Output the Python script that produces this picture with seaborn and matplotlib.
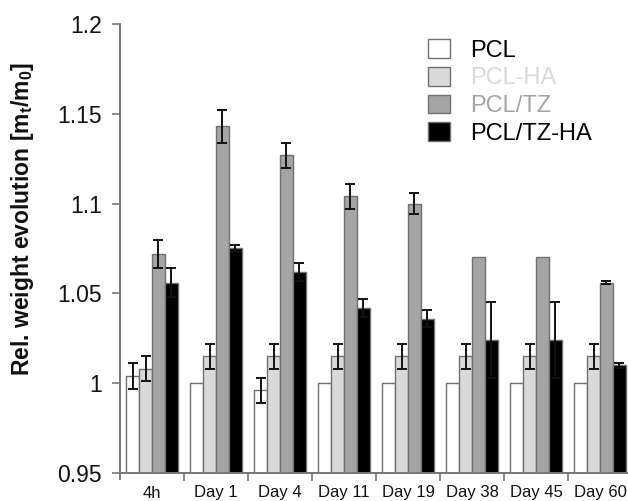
import matplotlib
matplotlib.use("Agg")
import matplotlib.pyplot as plt
import seaborn as sns
import pandas as pd
import numpy as np
from matplotlib.patches import Patch

times = ["4h", "Day 1", "Day 4", "Day 11", "Day 19", "Day 38", "Day 45", "Day 60"]
groups = ["PCL", "PCL-HA", "PCL/TZ", "PCL/TZ-HA"]

pcl = [1.004, 1.000, 0.996, 1.000, 1.000, 1.000, 1.000, 1.000]
pcl_err = [0.007, 0.0, 0.007, 0.0, 0.0, 0.0, 0.0, 0.0]
pcl_ha = [1.008, 1.015, 1.015, 1.015, 1.015, 1.015, 1.015, 1.015]
pcl_ha_err = [0.007, 0.007, 0.007, 0.007, 0.007, 0.007, 0.007, 0.007]
pcl_tz = [1.072, 1.143, 1.127, 1.104, 1.100, 1.070, 1.070, 1.056]
pcl_tz_err = [0.008, 0.009, 0.007, 0.007, 0.006, 0.0, 0.0, 0.001]
pcl_tz_ha = [1.056, 1.075, 1.062, 1.042, 1.036, 1.024, 1.024, 1.010]
pcl_tz_ha_err = [0.008, 0.002, 0.005, 0.005, 0.0045, 0.021, 0.021, 0.0015]

values = [pcl, pcl_ha, pcl_tz, pcl_tz_ha]
errors = [pcl_err, pcl_ha_err, pcl_tz_err, pcl_tz_ha_err]
colors = ["#ffffff", "#d9d9d9", "#a5a5a5", "#000000"]
text_colors = ["#000000", "#d9d9d9", "#a5a5a5", "#000000"]

rows = []
for g, vals in zip(groups, values):
    for t, v in zip(times, vals):
        rows.append({"time": t, "group": g, "value": v})
df = pd.DataFrame(rows)

sns.set_theme(style="white")
plt.rcParams["font.family"] = ["Liberation Sans", "DejaVu Sans"]
plt.rcParams["mathtext.fontset"] = "custom"
plt.rcParams["mathtext.rm"] = "Liberation Sans:bold"
plt.rcParams["mathtext.it"] = "Liberation Sans:bold"
plt.rcParams["mathtext.bf"] = "Liberation Sans:bold"
plt.rcParams["mathtext.default"] = "rm"

fig = plt.figure(figsize=(6.28, 5.01), dpi=100)
ax = fig.add_axes([120 / 628, (501 - 473) / 501, 512 / 628, 449 / 501])

sns.barplot(data=df, x="time", y="value", hue="group", order=times, hue_order=groups,
            palette=colors, edgecolor="#707070", linewidth=1.0, width=0.8, gap=0,
            errorbar=None, legend=False, ax=ax)

for cont, vals, errs in zip(ax.containers, values, errors):
    for bar, v, e in zip(cont, vals, errs):
        if e > 0:
            ax.errorbar(bar.get_x() + bar.get_width() / 2, v, yerr=e, fmt="none",
                        ecolor="#111111", elinewidth=1.4, capsize=3.5, capthick=1.4, zorder=5)

ax.set_ylim(0.95, 1.2)
ax.set_xlim(-0.5, 7.5)
ax.set_yticks([0.95, 1.0, 1.05, 1.1, 1.15, 1.2])
ax.set_yticklabels(["0.95", "1", "1.05", "1.1", "1.15", "1.2"])
ax.set_xticks(range(len(times)))
ax.set_xticklabels(times)
ax.set_xticks(np.arange(0.5, len(times) - 0.5 + 0.01, 1.0), minor=True)
ax.tick_params(axis="x", which="major", length=0, pad=9, labelsize=12, colors="#111111")
ax.tick_params(axis="x", which="minor", direction="out", length=6, width=1.2,
               color="#777777", bottom=True)
ax.tick_params(axis="y", direction="out", length=6, width=1.2, color="#777777",
               pad=7, labelsize=16.5, labelcolor="#111111", left=True)

for s in ["top", "right"]:
    ax.spines[s].set_visible(False)
for s in ["left", "bottom"]:
    ax.spines[s].set_color("#777777")
    ax.spines[s].set_linewidth(1.4)
ax.spines["left"].set_bounds(0.9465, 1.2)

ax.set_xlabel("")
ax.set_ylabel("Rel. weight evolution [m$_t$/m$_0$]", fontsize=16.5, fontweight="bold",
              color="#111111")
ax.yaxis.set_label_coords(-0.165, 0.565)

handles = [Patch(facecolor=c, edgecolor="#707070", linewidth=1.0) for c in colors]
leg = fig.legend(handles, groups, loc="upper left", bbox_to_anchor=(428 / 628, 1 - 39 / 501),
                 frameon=False, fontsize=17, handlelength=0.95, handleheight=0.85,
                 handletextpad=0.85, labelspacing=0.22, borderpad=0, borderaxespad=0)
for txt, c in zip(leg.get_texts(), text_colors):
    txt.set_color(c)

fig.savefig("out.png", dpi=100)
